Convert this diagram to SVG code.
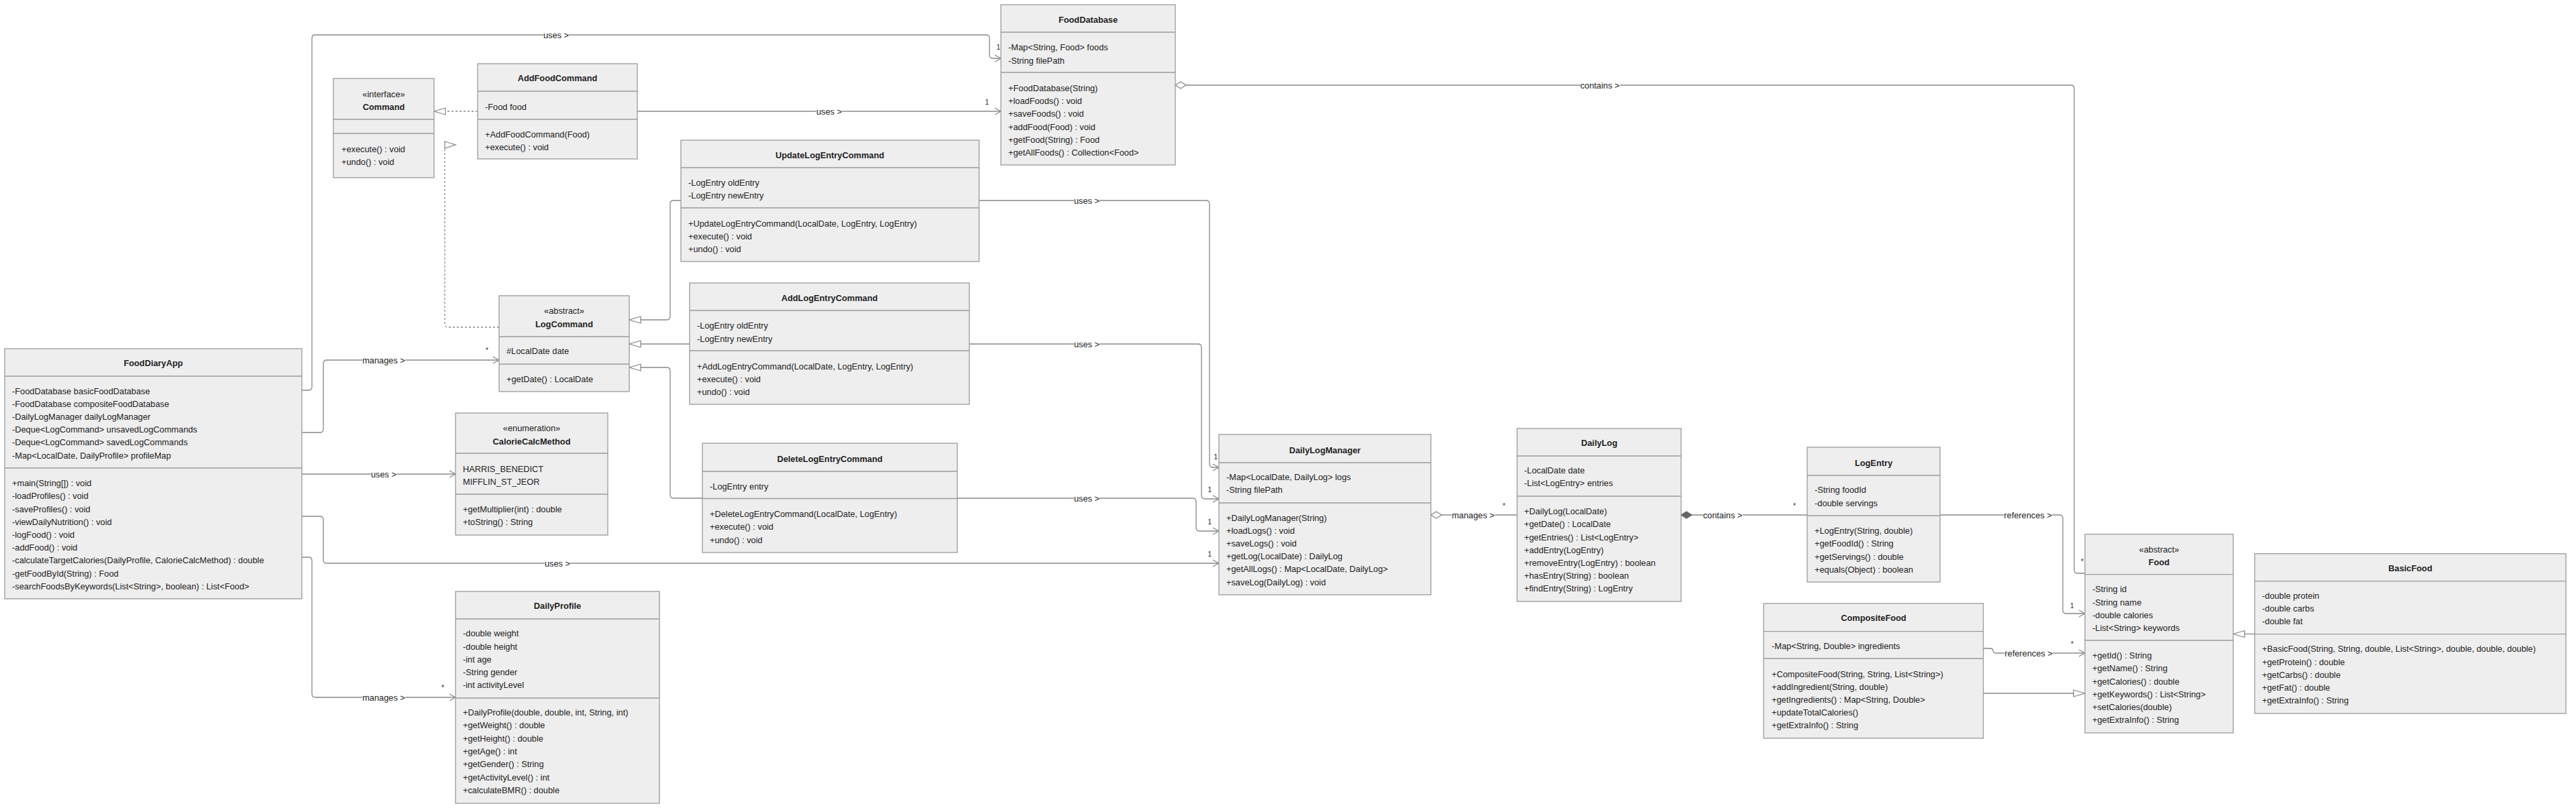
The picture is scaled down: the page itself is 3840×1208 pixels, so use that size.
<svg xmlns="http://www.w3.org/2000/svg" width="3840" height="1208" viewBox="0 0 3840 1208">
<style>
.bg{fill:#ffffff}
.box{fill:#eeeeee;stroke:#9a9a9a;stroke-width:1.3}
.dv{stroke:#9a9a9a;stroke-width:1.3}
text{font-family:"Liberation Sans",Arial,sans-serif;font-size:12.8px;fill:#222;dominant-baseline:central}
.ti{font-weight:bold;text-anchor:middle}
.st{text-anchor:middle}
.lbl{text-anchor:middle}
.m{font-size:10px}
.me{font-size:10px;text-anchor:end}
.c{fill:none;stroke:#888;stroke-width:1.3}
.dash{stroke-dasharray:3 3}
.lb{fill:#ffffff}
</style>
<defs>
<marker id="open" markerUnits="userSpaceOnUse" markerWidth="12" markerHeight="12" refX="10" refY="6" orient="auto" overflow="visible"><path d="M1,1 L10,6 L1,11" fill="none" stroke="#888" stroke-width="1.3"/></marker>
<marker id="tri" markerUnits="userSpaceOnUse" markerWidth="18" markerHeight="12" refX="17" refY="6" orient="auto" overflow="visible"><path d="M0,1 L17,6 L0,11 Z" fill="#ffffff" stroke="#888" stroke-width="1.3"/></marker>
<marker id="dia" markerUnits="userSpaceOnUse" markerWidth="17" markerHeight="12" refX="0" refY="6" orient="auto" overflow="visible"><path d="M0,6 L8,1 L16,6 L8,11 Z" fill="#ffffff" stroke="#888" stroke-width="1.3"/></marker>
<marker id="fdia" markerUnits="userSpaceOnUse" markerWidth="17" markerHeight="12" refX="0" refY="6" orient="auto" overflow="visible"><path d="M0,6 L8,1 L16,6 L8,11 Z" fill="#666" stroke="#666" stroke-width="1.3"/></marker>
</defs>
<rect class="bg" x="0" y="0" width="3840" height="1208"/>

<g id="connectors">
<!-- FoodDiaryApp uses FoodDatabase -->
<path class="c" d="M450,582 H460 Q465,582 465,577 V57 Q465,52 470,52 H1470 Q1475,52 1475,57 V82 Q1475,87 1480,87 H1492" marker-end="url(#open)"/>
<rect class="lb" x="810" y="44" width="38" height="16"/><text class="lbl" x="829" y="52">uses &gt;</text>
<text class="me" x="1491" y="70">1</text>
<!-- AddFoodCommand uses FoodDatabase -->
<path class="c" d="M950,166 H1492" marker-end="url(#open)"/>
<rect class="lb" x="1217" y="158" width="38" height="16"/><text class="lbl" x="1236" y="166">uses &gt;</text>
<text class="me" x="1474" y="152">1</text>
<!-- AddFoodCommand realizes Command -->
<path class="c dash" d="M712,166 H647" marker-end="url(#tri)"/>
<!-- LogCommand realizes Command -->
<path class="c dash" d="M744,488 H668 Q663,488 663,483 V221"/>
<polygon points="663,211 679,216 663,221" fill="#ffffff" stroke="#888" stroke-width="1.3"/>
<!-- FoodDiaryApp manages LogCommand -->
<path class="c" d="M450,645 H477 Q482,645 482,640 V542 Q482,537 487,537 H744" marker-end="url(#open)"/>
<rect class="lb" x="540" y="529" width="64" height="16"/><text class="lbl" x="572" y="537">manages &gt;</text>
<text class="m" x="724" y="522">*</text>
<!-- FoodDiaryApp uses CalorieCalcMethod -->
<path class="c" d="M450,707 H679" marker-end="url(#open)"/>
<rect class="lb" x="553" y="699" width="38" height="16"/><text class="lbl" x="572" y="707">uses &gt;</text>
<!-- FoodDiaryApp uses DailyLogManager -->
<path class="c" d="M450,770 H477 Q482,770 482,775 V835 Q482,840 487,840 H1817" marker-end="url(#open)"/>
<rect class="lb" x="812" y="832" width="38" height="16"/><text class="lbl" x="831" y="840">uses &gt;</text>
<text class="me" x="1806" y="826">1</text>
<!-- FoodDiaryApp manages DailyProfile -->
<path class="c" d="M450,831 H460 Q465,831 465,836 V1035 Q465,1040 470,1040 H679" marker-end="url(#open)"/>
<rect class="lb" x="540" y="1032" width="64" height="16"/><text class="lbl" x="572" y="1040">manages &gt;</text>
<text class="m" x="658" y="1025">*</text>
<!-- Generalizations to LogCommand -->
<path class="c" d="M1015,299 H1004 Q999,299 999,304 V472 Q999,477 994,477 H938" marker-end="url(#tri)"/>
<path class="c" d="M1028,513 H938" marker-end="url(#tri)"/>
<path class="c" d="M1047,743 H1004 Q999,743 999,738 V553 Q999,548 994,548 H938" marker-end="url(#tri)"/>
<!-- Commands use DailyLogManager -->
<path class="c" d="M1459,299 H1798 Q1803,299 1803,304 V692 Q1803,697 1808,697 H1817" marker-end="url(#open)"/>
<rect class="lb" x="1601" y="291" width="38" height="16"/><text class="lbl" x="1620" y="299">uses &gt;</text>
<text class="me" x="1815" y="681">1</text>
<path class="c" d="M1445,513 H1786 Q1791,513 1791,518 V739 Q1791,744 1796,744 H1817" marker-end="url(#open)"/>
<rect class="lb" x="1601" y="505" width="38" height="16"/><text class="lbl" x="1620" y="513">uses &gt;</text>
<text class="me" x="1806" y="730">1</text>
<path class="c" d="M1427,743 H1778 Q1783,743 1783,748 V787 Q1783,792 1788,792 H1817" marker-end="url(#open)"/>
<rect class="lb" x="1601" y="735" width="38" height="16"/><text class="lbl" x="1620" y="743">uses &gt;</text>
<text class="me" x="1806" y="778">1</text>
<!-- DailyLogManager manages DailyLog -->
<path class="c" d="M2133,768 H2261" marker-start="url(#dia)"/>
<rect class="lb" x="2164" y="760" width="64" height="16"/><text class="lbl" x="2196" y="768">manages &gt;</text>
<text class="m" x="2240" y="754">*</text>
<!-- DailyLog contains LogEntry -->
<path class="c" d="M2506,768 H2694" marker-start="url(#fdia)"/>
<rect class="lb" x="2539" y="760" width="59" height="16"/><text class="lbl" x="2568" y="768">contains &gt;</text>
<text class="m" x="2673" y="754">*</text>
<!-- FoodDatabase contains Food -->
<path class="c" d="M1752,127 H3087 Q3092,127 3092,132 V850 Q3092,855 3097,855 H3108" marker-start="url(#dia)"/>
<rect class="lb" x="2356" y="119" width="59" height="16"/><text class="lbl" x="2385" y="127">contains &gt;</text>
<text class="m" x="3102" y="837">*</text>
<!-- LogEntry references Food -->
<path class="c" d="M2892,768 H3070 Q3075,768 3075,773 V910 Q3075,915 3080,915 H3108" marker-end="url(#open)"/>
<rect class="lb" x="2987" y="760" width="72" height="16"/><text class="lbl" x="3023" y="768">references &gt;</text>
<text class="m" x="3086" y="903">1</text>
<!-- CompositeFood references Food -->
<path class="c" d="M2956,967 H2966 Q2971,967 2971,970.5 Q2971,974 2976,974 H3108" marker-end="url(#open)"/>
<rect class="lb" x="2988" y="966" width="72" height="16"/><text class="lbl" x="3024" y="974">references &gt;</text>
<text class="m" x="3087" y="960">*</text>
<!-- Generalizations to Food -->
<path class="c" d="M2956,1034 H3108" marker-end="url(#tri)"/>
<path class="c" d="M3361,945.5 H3329" marker-end="url(#tri)"/>
</g>

<g id="FoodDiaryApp">
<rect class="box" x="7" y="520" width="443" height="373"/>
<line class="dv" x1="7" y1="561" x2="450" y2="561"/>
<line class="dv" x1="7" y1="698" x2="450" y2="698"/>
<text class="ti" x="228.5" y="541">FoodDiaryApp</text>
<text x="18" y="583">-FoodDatabase basicFoodDatabase</text>
<text x="18" y="602.2">-FoodDatabase compositeFoodDatabase</text>
<text x="18" y="621.4">-DailyLogManager dailyLogManager</text>
<text x="18" y="640.6">-Deque&lt;LogCommand&gt; unsavedLogCommands</text>
<text x="18" y="659.8">-Deque&lt;LogCommand&gt; savedLogCommands</text>
<text x="18" y="679">-Map&lt;LocalDate, DailyProfile&gt; profileMap</text>
<text x="18" y="720.7">+main(String[]) : void</text>
<text x="18" y="739.9">-loadProfiles() : void</text>
<text x="18" y="759.1">-saveProfiles() : void</text>
<text x="18" y="778.3">-viewDailyNutrition() : void</text>
<text x="18" y="797.5">-logFood() : void</text>
<text x="18" y="816.7">-addFood() : void</text>
<text x="18" y="835.9">-calculateTargetCalories(DailyProfile, CalorieCalcMethod) : double</text>
<text x="18" y="855.1">-getFoodById(String) : Food</text>
<text x="18" y="874.3">-searchFoodsByKeywords(List&lt;String&gt;, boolean) : List&lt;Food&gt;</text>
</g>

<g id="Command">
<rect class="box" x="497" y="117" width="150" height="148"/>
<line class="dv" x1="497" y1="178" x2="647" y2="178"/>
<line class="dv" x1="497" y1="199" x2="647" y2="199"/>
<text class="st" x="572" y="140">«interface»</text>
<text class="ti" x="572" y="159">Command</text>
<text x="509" y="222">+execute() : void</text>
<text x="509" y="241">+undo() : void</text>
</g>

<g id="AddFoodCommand">
<rect class="box" x="712" y="95" width="238" height="142"/>
<line class="dv" x1="712" y1="136" x2="950" y2="136"/>
<line class="dv" x1="712" y1="178" x2="950" y2="178"/>
<text class="ti" x="831" y="116.5">AddFoodCommand</text>
<text x="723" y="159">-Food food</text>
<text x="723" y="200">+AddFoodCommand(Food)</text>
<text x="723" y="219">+execute() : void</text>
</g>

<g id="FoodDatabase">
<rect class="box" x="1492" y="7" width="260" height="239"/>
<line class="dv" x1="1492" y1="48" x2="1752" y2="48"/>
<line class="dv" x1="1492" y1="108" x2="1752" y2="108"/>
<text class="ti" x="1622" y="29">FoodDatabase</text>
<text x="1503" y="70.7">-Map&lt;String, Food&gt; foods</text>
<text x="1503" y="90">-String filePath</text>
<text x="1503" y="131.7">+FoodDatabase(String)</text>
<text x="1503" y="150.8">+loadFoods() : void</text>
<text x="1503" y="169.9">+saveFoods() : void</text>
<text x="1503" y="189">+addFood(Food) : void</text>
<text x="1503" y="208.1">+getFood(String) : Food</text>
<text x="1503" y="227.2">+getAllFoods() : Collection&lt;Food&gt;</text>
</g>

<g id="UpdateLogEntryCommand">
<rect class="box" x="1015" y="209" width="444.5" height="181"/>
<line class="dv" x1="1015" y1="250" x2="1459.5" y2="250"/>
<line class="dv" x1="1015" y1="310" x2="1459.5" y2="310"/>
<text class="ti" x="1237" y="231">UpdateLogEntryCommand</text>
<text x="1026" y="272">-LogEntry oldEntry</text>
<text x="1026" y="291">-LogEntry newEntry</text>
<text x="1026" y="333">+UpdateLogEntryCommand(LocalDate, LogEntry, LogEntry)</text>
<text x="1026" y="352">+execute() : void</text>
<text x="1026" y="371">+undo() : void</text>
</g>

<g id="LogCommand">
<rect class="box" x="744" y="441" width="194" height="143"/>
<line class="dv" x1="744" y1="502" x2="938" y2="502"/>
<line class="dv" x1="744" y1="543" x2="938" y2="543"/>
<text class="st" x="841" y="463">«abstract»</text>
<text class="ti" x="841" y="483">LogCommand</text>
<text x="755" y="523">#LocalDate date</text>
<text x="755" y="565">+getDate() : LocalDate</text>
</g>

<g id="AddLogEntryCommand">
<rect class="box" x="1028" y="422" width="417" height="181"/>
<line class="dv" x1="1028" y1="463" x2="1445" y2="463"/>
<line class="dv" x1="1028" y1="523" x2="1445" y2="523"/>
<text class="ti" x="1236.5" y="444">AddLogEntryCommand</text>
<text x="1039" y="485">-LogEntry oldEntry</text>
<text x="1039" y="505">-LogEntry newEntry</text>
<text x="1039" y="546">+AddLogEntryCommand(LocalDate, LogEntry, LogEntry)</text>
<text x="1039" y="565">+execute() : void</text>
<text x="1039" y="584">+undo() : void</text>
</g>

<g id="CalorieCalcMethod">
<rect class="box" x="679" y="616" width="227" height="182"/>
<line class="dv" x1="679" y1="676" x2="906" y2="676"/>
<line class="dv" x1="679" y1="737" x2="906" y2="737"/>
<text class="st" x="792.5" y="638">«enumeration»</text>
<text class="ti" x="792.5" y="658">CalorieCalcMethod</text>
<text x="690" y="699">HARRIS_BENEDICT</text>
<text x="690" y="718">MIFFLIN_ST_JEOR</text>
<text x="690" y="759">+getMultiplier(int) : double</text>
<text x="690" y="778">+toString() : String</text>
</g>

<g id="DeleteLogEntryCommand">
<rect class="box" x="1047" y="661" width="380" height="163"/>
<line class="dv" x1="1047" y1="703" x2="1427" y2="703"/>
<line class="dv" x1="1047" y1="743.5" x2="1427" y2="743.5"/>
<text class="ti" x="1237" y="684">DeleteLogEntryCommand</text>
<text x="1058" y="725">-LogEntry entry</text>
<text x="1058" y="766">+DeleteLogEntryCommand(LocalDate, LogEntry)</text>
<text x="1058" y="785">+execute() : void</text>
<text x="1058" y="805">+undo() : void</text>
</g>

<g id="DailyProfile">
<rect class="box" x="679" y="882" width="304" height="316"/>
<line class="dv" x1="679" y1="923" x2="983" y2="923"/>
<line class="dv" x1="679" y1="1041" x2="983" y2="1041"/>
<text class="ti" x="831" y="903.6">DailyProfile</text>
<text x="690" y="944.7">-double weight</text>
<text x="690" y="964">-double height</text>
<text x="690" y="983.3">-int age</text>
<text x="690" y="1002.6">-String gender</text>
<text x="690" y="1021.9">-int activityLevel</text>
<text x="690" y="1062.6">+DailyProfile(double, double, int, String, int)</text>
<text x="690" y="1081.9">+getWeight() : double</text>
<text x="690" y="1101.2">+getHeight() : double</text>
<text x="690" y="1120.5">+getAge() : int</text>
<text x="690" y="1139.8">+getGender() : String</text>
<text x="690" y="1159.1">+getActivityLevel() : int</text>
<text x="690" y="1178.4">+calculateBMR() : double</text>
</g>

<g id="DailyLogManager">
<rect class="box" x="1817" y="648" width="316" height="239"/>
<line class="dv" x1="1817" y1="690" x2="2133" y2="690"/>
<line class="dv" x1="1817" y1="750" x2="2133" y2="750"/>
<text class="ti" x="1975" y="671">DailyLogManager</text>
<text x="1828" y="711.7">-Map&lt;LocalDate, DailyLog&gt; logs</text>
<text x="1828" y="730.7">-String filePath</text>
<text x="1828" y="772">+DailyLogManager(String)</text>
<text x="1828" y="791.2">+loadLogs() : void</text>
<text x="1828" y="810.4">+saveLogs() : void</text>
<text x="1828" y="829.6">+getLog(LocalDate) : DailyLog</text>
<text x="1828" y="848.8">+getAllLogs() : Map&lt;LocalDate, DailyLog&gt;</text>
<text x="1828" y="868">+saveLog(DailyLog) : void</text>
</g>

<g id="DailyLog">
<rect class="box" x="2261.5" y="639" width="244.5" height="258"/>
<line class="dv" x1="2261.5" y1="680" x2="2506" y2="680"/>
<line class="dv" x1="2261.5" y1="740" x2="2506" y2="740"/>
<text class="ti" x="2384" y="660.7">DailyLog</text>
<text x="2272" y="701.7">-LocalDate date</text>
<text x="2272" y="720.7">-List&lt;LogEntry&gt; entries</text>
<text x="2272" y="762.7">+DailyLog(LocalDate)</text>
<text x="2272" y="781.9">+getDate() : LocalDate</text>
<text x="2272" y="801.1">+getEntries() : List&lt;LogEntry&gt;</text>
<text x="2272" y="820.3">+addEntry(LogEntry)</text>
<text x="2272" y="839.5">+removeEntry(LogEntry) : boolean</text>
<text x="2272" y="858.7">+hasEntry(String) : boolean</text>
<text x="2272" y="877.9">+findEntry(String) : LogEntry</text>
</g>

<g id="LogEntry">
<rect class="box" x="2694" y="667" width="198" height="201"/>
<line class="dv" x1="2694" y1="709" x2="2892" y2="709"/>
<line class="dv" x1="2694" y1="769" x2="2892" y2="769"/>
<text class="ti" x="2793" y="690">LogEntry</text>
<text x="2705" y="730.7">-String foodId</text>
<text x="2705" y="750">-double servings</text>
<text x="2705" y="791.7">+LogEntry(String, double)</text>
<text x="2705" y="810.9">+getFoodId() : String</text>
<text x="2705" y="830.1">+getServings() : double</text>
<text x="2705" y="849.3">+equals(Object) : boolean</text>
</g>

<g id="CompositeFood">
<rect class="box" x="2629" y="900" width="327.5" height="201"/>
<line class="dv" x1="2629" y1="941.7" x2="2956.5" y2="941.7"/>
<line class="dv" x1="2629" y1="982" x2="2956.5" y2="982"/>
<text class="ti" x="2793" y="921.7">CompositeFood</text>
<text x="2641" y="963.7">-Map&lt;String, Double&gt; ingredients</text>
<text x="2641" y="1005">+CompositeFood(String, String, List&lt;String&gt;)</text>
<text x="2641" y="1024.2">+addIngredient(String, double)</text>
<text x="2641" y="1043.4">+getIngredients() : Map&lt;String, Double&gt;</text>
<text x="2641" y="1062.6">+updateTotalCalories()</text>
<text x="2641" y="1081.8">+getExtraInfo() : String</text>
</g>

<g id="Food">
<rect class="box" x="3108" y="796.7" width="221" height="296.3"/>
<line class="dv" x1="3108" y1="856.7" x2="3329" y2="856.7"/>
<line class="dv" x1="3108" y1="955" x2="3329" y2="955"/>
<text class="st" x="3218.5" y="819">«abstract»</text>
<text class="ti" x="3218.5" y="838">Food</text>
<text x="3119" y="878.7">-String id</text>
<text x="3119" y="898">-String name</text>
<text x="3119" y="917.3">-double calories</text>
<text x="3119" y="936.6">-List&lt;String&gt; keywords</text>
<text x="3119" y="977.7">+getId() : String</text>
<text x="3119" y="996.9">+getName() : String</text>
<text x="3119" y="1016.1">+getCalories() : double</text>
<text x="3119" y="1035.3">+getKeywords() : List&lt;String&gt;</text>
<text x="3119" y="1054.5">+setCalories(double)</text>
<text x="3119" y="1073.7">+getExtraInfo() : String</text>
</g>

<g id="BasicFood">
<rect class="box" x="3361" y="825.7" width="464" height="238.3"/>
<line class="dv" x1="3361" y1="866.7" x2="3825" y2="866.7"/>
<line class="dv" x1="3361" y1="945.7" x2="3825" y2="945.7"/>
<text class="ti" x="3593" y="847.7">BasicFood</text>
<text x="3372" y="888.7">-double protein</text>
<text x="3372" y="907.7">-double carbs</text>
<text x="3372" y="926.7">-double fat</text>
<text x="3372" y="967.7">+BasicFood(String, String, double, List&lt;String&gt;, double, double, double)</text>
<text x="3372" y="987">+getProtein() : double</text>
<text x="3372" y="1006.3">+getCarbs() : double</text>
<text x="3372" y="1025.6">+getFat() : double</text>
<text x="3372" y="1044.9">+getExtraInfo() : String</text>
</g>
</svg>
